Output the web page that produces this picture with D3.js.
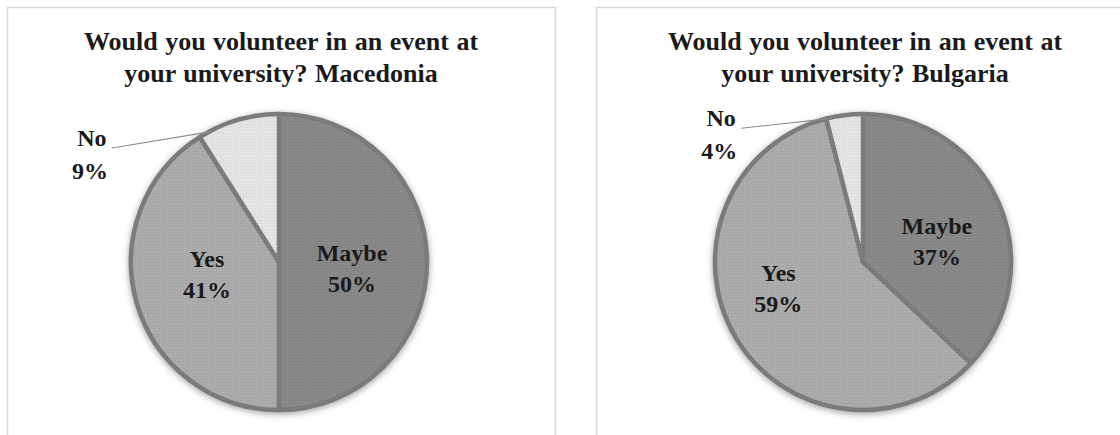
<!DOCTYPE html>
<html>
<head>
<meta charset="utf-8">
<script src="https://cdn.jsdelivr.net/npm/d3@7"></script>
<style>
  body { margin: 0; background: #fff; }
  svg { display: block; }
  text { font-family: "Liberation Serif", "Times New Roman", serif; font-weight: bold; fill: #1a1a1a; }
</style>
</head>
<body>
<svg id="chart" width="1120" height="435"></svg>
<script>
// data
var categories = ["Maybe", "Yes", "No"];
var macedonia = [50, 41, 9];
var bulgaria = [37, 59, 4];
var titleMacedonia = ["Would you volunteer in an event at", "your university? Macedonia"];
var titleBulgaria = ["Would you volunteer in an event at", "your university? Bulgaria"];

var colors = { "Maybe": "#878787", "Yes": "#aaaaaa", "No": "#e3e3e3" };

var svg = d3.select("#chart");
var W = 1120, H = 435;

// shadow filter + grain pattern
var defs = svg.append("defs");
var f = defs.append("filter").attr("id", "shadow")
    .attr("x", "-20%").attr("y", "-20%").attr("width", "140%").attr("height", "140%");
f.append("feGaussianBlur").attr("stdDeviation", 3.5);

var pat = defs.append("pattern").attr("id", "grain")
    .attr("width", 3).attr("height", 3).attr("patternUnits", "userSpaceOnUse");
pat.append("rect").attr("x", 0).attr("y", 0).attr("width", 1).attr("height", 1)
    .attr("fill", "#000").attr("opacity", 0.06);
pat.append("rect").attr("x", 1.5).attr("y", 1.5).attr("width", 1).attr("height", 1)
    .attr("fill", "#fff").attr("opacity", 0.08);

// label nudges (px) so the inside labels sit where the original has them
var panels = [
    { x: 7, w: 548, values: macedonia, title: titleMacedonia, cx: 279, labelAng: -60, labelR: 1.46,
      nudge: { "Maybe": [-1, 1], "Yes": [-1, -14] } },
    { x: 596, w: 548, values: bulgaria, title: titleBulgaria, cx: 863, labelAng: -48, labelR: 1.29,
      nudge: { "Maybe": [6, 3], "Yes": [-21, -17] } }
];

var r = 148, cy = 262;

var pie = d3.pie().sort(null).value(function (d) { return d.value; });
var arc = d3.arc().innerRadius(0).outerRadius(r);

panels.forEach(function (p) {
    var data = categories.map(function (c, i) { return { name: c, value: p.values[i] }; });

    // panel frame
    svg.append("rect")
        .attr("x", p.x + 0.5).attr("y", 7.5)
        .attr("width", p.w).attr("height", H)
        .attr("fill", "none").attr("stroke", "#d9d9d9").attr("stroke-width", 1.5);

    // title
    p.title.forEach(function (line, i) {
        svg.append("text")
            .attr("x", p.cx + 2).attr("y", 50 + i * 32)
            .attr("text-anchor", "middle")
            .style("font-size", "26px")
            .style("word-spacing", "1px")
            .text(line);
    });

    var g = svg.append("g").attr("transform", "translate(" + p.cx + "," + cy + ")");

    // soft shadow
    g.append("circle").attr("cx", 0).attr("cy", 2).attr("r", r + 2)
        .attr("fill", "#9a9a9a").attr("filter", "url(#shadow)");

    var arcs = pie(data);

    g.selectAll("path.slice")
        .data(arcs)
        .enter()
        .append("path")
        .attr("class", "slice")
        .attr("d", arc)
        .attr("fill", function (d) { return colors[d.data.name]; })
        .attr("stroke", "#7b7b7b")
        .attr("stroke-width", 4.5)
        .attr("stroke-linejoin", "round");

    g.selectAll("path.grain")
        .data(arcs)
        .enter()
        .append("path")
        .attr("class", "grain")
        .attr("d", d3.arc().innerRadius(0).outerRadius(r - 2.5))
        .attr("fill", "url(#grain)");

    // inside labels (Maybe, Yes)
    var labelArc = d3.arc().innerRadius(r * 0.5).outerRadius(r * 0.5);
    arcs.filter(function (d) { return d.data.name != "No"; }).forEach(function (d) {
        var c = labelArc.centroid(d);
        var n = p.nudge[d.data.name];
        var x = c[0] + n[0], y = c[1] + n[1];
        var lt = g.append("text").attr("text-anchor", "middle").style("font-size", "24px");
        lt.append("tspan").attr("x", x).attr("y", y - 2).text(d.data.name);
        lt.append("tspan").attr("x", x).attr("y", y + 29).text(d.data.value + "%");
    });

    // outside label for "No" with leader line
    var no = arcs[2];
    var a = p.labelAng * Math.PI / 180;
    var lx = Math.sin(a) * r * p.labelR, ly = -Math.cos(a) * r * p.labelR;
    var ea = no.startAngle + 0.15 * (no.endAngle - no.startAngle);
    var ex = Math.sin(ea) * (r - 1), ey = -Math.cos(ea) * (r - 1);

    g.append("line")
        .attr("x1", lx + 20).attr("y1", ly - 6)
        .attr("x2", ex).attr("y2", ey)
        .attr("stroke", "#8c8c8c").attr("stroke-width", 1.1);

    var nt = g.append("text").attr("text-anchor", "middle").style("font-size", "24px");
    nt.append("tspan").attr("x", lx).attr("y", ly - 8).text(no.data.name);
    nt.append("tspan").attr("x", lx - 2).attr("y", ly + 25).text(no.data.value + "%");
});
</script>
</body>
</html>
